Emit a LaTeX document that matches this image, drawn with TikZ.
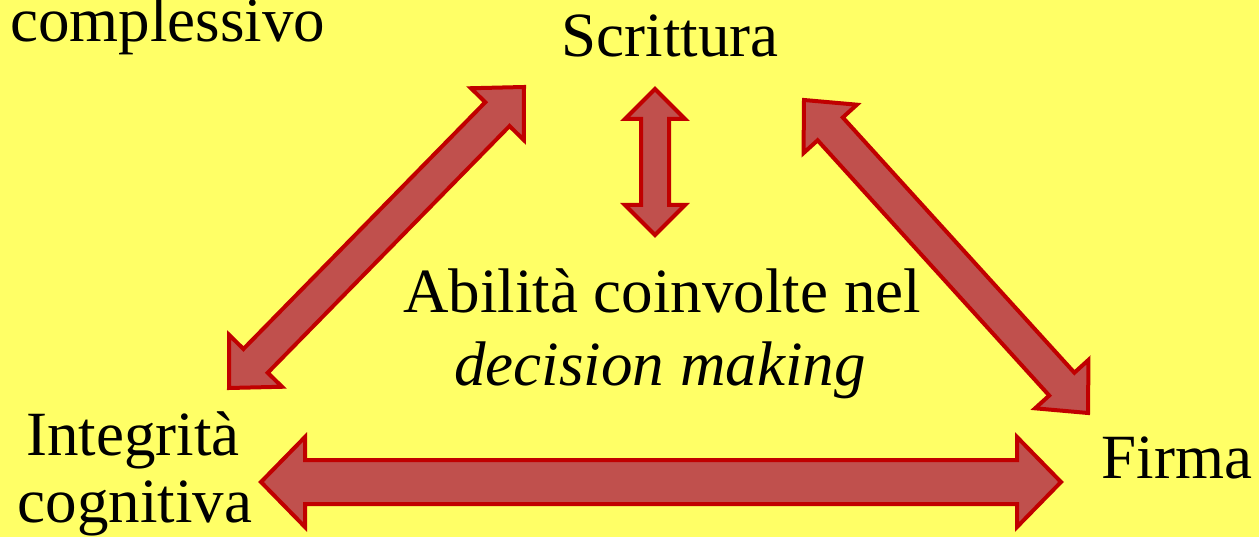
\documentclass[tikz,border=0pt]{standalone}
\usepackage{fontspec}
\setmainfont{Liberation Serif}
\usetikzlibrary{calc}
\definecolor{bg}{HTML}{FFFF66}
\definecolor{arrowfill}{HTML}{C0504D}
\definecolor{arrowline}{HTML}{C00000}
\tikzset{
  blockarrow/.style={fill=arrowfill, draw=arrowline, line width=4pt, line join=miter},
  lbl/.style={font=\fontsize{63}{72}\selectfont, text=black, inner sep=0pt, anchor=base}
}
% double-headed block arrow between two named tips:
% #1,#2 tips, #3 head length, #4 head half width, #5 shaft half width
\newcommand\dblblock[5]{%
  \path[blockarrow] (#1)
    -- ($(#1)!#3!(#2)!#4!90:(#2)$)
    -- ($(#1)!#3!(#2)!#5!90:(#2)$)
    -- ($(#2)!#3!(#1)!#5!-90:(#1)$)
    -- ($(#2)!#3!(#1)!#4!-90:(#1)$)
    -- (#2)
    -- ($(#2)!#3!(#1)!#4!90:(#1)$)
    -- ($(#2)!#3!(#1)!#5!90:(#1)$)
    -- ($(#1)!#3!(#2)!#5!-90:(#2)$)
    -- ($(#1)!#3!(#2)!#4!-90:(#2)$)
    -- cycle;}
\begin{document}
\begin{tikzpicture}[x=1pt, y=-1pt]
  \useasboundingbox (0,0) rectangle (1259,537);
  \fill[bg] (0,0) rectangle (1259,537);

  % labels
  \node[lbl, anchor=base west] (top)  at (10,42)   {complessivo};
  \node[lbl] (scr)  at (670,57)  {Scrittura};
  \node[lbl] (abl1) at (662,313) {Abilità coinvolte nel};
  \node[lbl] (abl2) at (660,385) {\itshape decision making};
  \node[lbl] (int1) at (133,455) {Integrità};
  \node[lbl] (int2) at (135,522) {cognitiva};
  \node[lbl] (fir)  at (1177,478) {Firma};

  % arrow tips
  \coordinate (a1s) at (229,388);  \coordinate (a1e) at (524,87);
  \coordinate (a2s) at (655,89);   \coordinate (a2e) at (655,235);
  \coordinate (a3s) at (804,100);  \coordinate (a3e) at (1088,413);
  \coordinate (a4s) at (261,482);  \coordinate (a4e) at (1061,482);

  \dblblock{a1s}{a1e}{38pt}{37pt}{17pt}
  \dblblock{a2s}{a2e}{30pt}{30pt}{14pt}
  \dblblock{a3s}{a3e}{39pt}{36pt}{17pt}
  \dblblock{a4s}{a4e}{44pt}{45pt}{22pt}
\end{tikzpicture}
\end{document}
